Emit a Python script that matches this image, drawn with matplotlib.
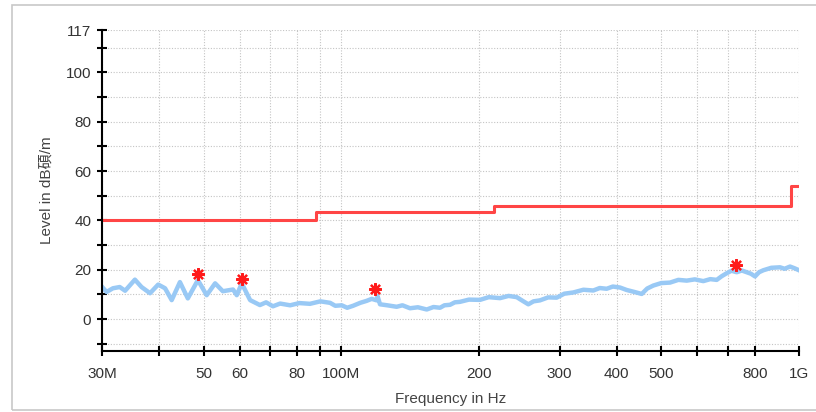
import numpy as np
from matplotlib import pyplot as plt
from matplotlib.patches import Rectangle
from matplotlib.ticker import FixedLocator, FixedFormatter, NullLocator

plt.rcParams['font.family'] = ['Liberation Sans', 'Noto Sans CJK TC']

# measured trace, frequency in MHz, level in dB
freq = [30.0, 30.7, 31.7, 32.8, 33.7, 35.4, 36.6, 38.2, 39.8, 41.2, 42.6, 44.4,
        46.2, 48.6, 50.8, 53.0, 55.1, 58.0, 59.1, 60.6, 63.2, 66.4, 68.5, 70.9,
        73.5, 77.3, 81.0, 85.4, 90.0, 94.5, 97.0, 100.2, 103.0, 106.1, 110.0,
        113.6, 116.5, 119.5, 120.0, 121.5, 126.0, 132.1, 136.0, 141.3, 147.0,
        153.7, 159.0, 164.3, 168.0, 172.8, 177.0, 181.7, 190.0, 200.9, 210.0,
        222.2, 232.0, 241.7, 249.0, 256.2, 263.0, 271.7, 283.0, 295.5, 307.0,
        321.3, 338.0, 355.3, 367.0, 380.0, 392.0, 406.4, 420.3, 437.0, 453.3,
        466.0, 480.5, 500.0, 522.6, 545.0, 568.5, 592.0, 618.0, 640.0, 661.0,
        678.0, 695.1, 712.0, 731.0, 750.0, 768.7, 785.0, 801.5, 818.0, 835.7,
        870.0, 908.9, 930.0, 955.9, 978.0, 1000.0]
level = [13.1, 11.0, 12.5, 13.0, 11.5, 16.0, 13.0, 10.5, 14.0, 12.5, 7.7, 15.0,
         8.4, 15.8, 9.7, 14.5, 11.3, 12.0, 9.7, 14.5, 7.7, 5.7, 6.8, 5.2,
         6.3, 5.6, 6.5, 6.2, 7.2, 6.6, 5.4, 5.6, 4.6, 5.4, 6.6,
         7.4, 8.2, 7.6, 9.3, 6.0, 5.6, 5.0, 5.6, 4.4, 4.8,
         3.9, 4.9, 4.6, 5.6, 5.8, 6.8, 7.0, 7.9, 7.8, 8.9,
         8.5, 9.4, 8.9, 7.4, 6.0, 7.2, 7.6, 8.8, 8.7, 10.3,
         10.8, 11.9, 11.6, 12.6, 12.3, 13.2, 12.8, 11.8, 11.0, 10.2,
         12.4, 13.6, 14.6, 14.8, 15.9, 15.6, 16.1, 15.4, 16.2, 15.9,
         17.4, 18.6, 19.6, 19.0, 19.7, 19.0, 18.4, 17.3, 19.0, 19.8,
         20.8, 21.0, 20.4, 21.3, 20.6, 19.8]

# FCC class B limit
limit_f = [30, 88, 88, 216, 216, 960, 960, 1000]
limit_db = [40, 40, 43.5, 43.5, 46, 46, 54, 54]

# peaks marked
peak_f = [48.6, 60.6, 118.5, 728.0]
peak_db = [18.1, 16.1, 12.4, 21.9]

xticks = [30, 40, 50, 60, 70, 80, 90, 100, 200, 300, 400, 500, 600, 700, 800, 1000]
xlabels = ['30M', '', '50', '60', '', '80', '', '100M', '200', '300', '400',
           '500', '', '', '800', '1G']
yticks = [-10, 0, 10, 20, 30, 40, 50, 60, 70, 80, 90, 100, 110, 117]
ylabels = ['', '0', '', '20', '', '40', '', '60', '', '80', '', '100', '', '117']

fig = plt.figure(figsize=(8.16, 4.12), dpi=100)
fig.patches.append(Rectangle((12 / 816, 2 / 412), 0.99, 405 / 412,
                             transform=fig.transFigure, fill=False,
                             edgecolor='#c8c8c8', linewidth=1.2))
ax = fig.add_axes([102 / 816, 1 - 350.7 / 412, 697 / 816, 320.3 / 412])

ax.plot(freq, level, color='#99c9f5', linewidth=3.2)
ax.plot(limit_f, limit_db, color='#ff4545', linewidth=2.2)
ax.plot(peak_f, peak_db, linestyle='none', marker=(8, 2, 0), markersize=9,
        markeredgecolor='#ff1a1a', markeredgewidth=1.6)

ax.set_xscale('log')
ax.set_xlim(30, 1000)
ax.set_ylim(-12.8, 117)
ax.xaxis.set_major_locator(FixedLocator(xticks))
ax.xaxis.set_major_formatter(FixedFormatter(xlabels))
ax.xaxis.set_minor_locator(NullLocator())
ax.yaxis.set_major_locator(FixedLocator(yticks))
ax.yaxis.set_major_formatter(FixedFormatter(ylabels))

ax.grid(True, color='#c4c4c4', linestyle=(0, (1, 1.5)), linewidth=0.8)
ax.set_axisbelow(True)
for side in ['top', 'right']:
    ax.spines[side].set_visible(False)
for side in ['left', 'bottom']:
    ax.spines[side].set_linewidth(1.5)
ax.tick_params(direction='inout', length=7.5, width=1.5, labelsize=11,
               labelcolor='#333333')
ax.tick_params(axis='x', pad=8)
ax.tick_params(axis='y', pad=4)

ax.set_xlabel('Frequency in Hz', fontsize=11, color='#444444', labelpad=8)
ax.set_ylabel('Level in dB碩/m', fontsize=11, color='#444444', labelpad=9)

fig.savefig('out.png', dpi=100)
